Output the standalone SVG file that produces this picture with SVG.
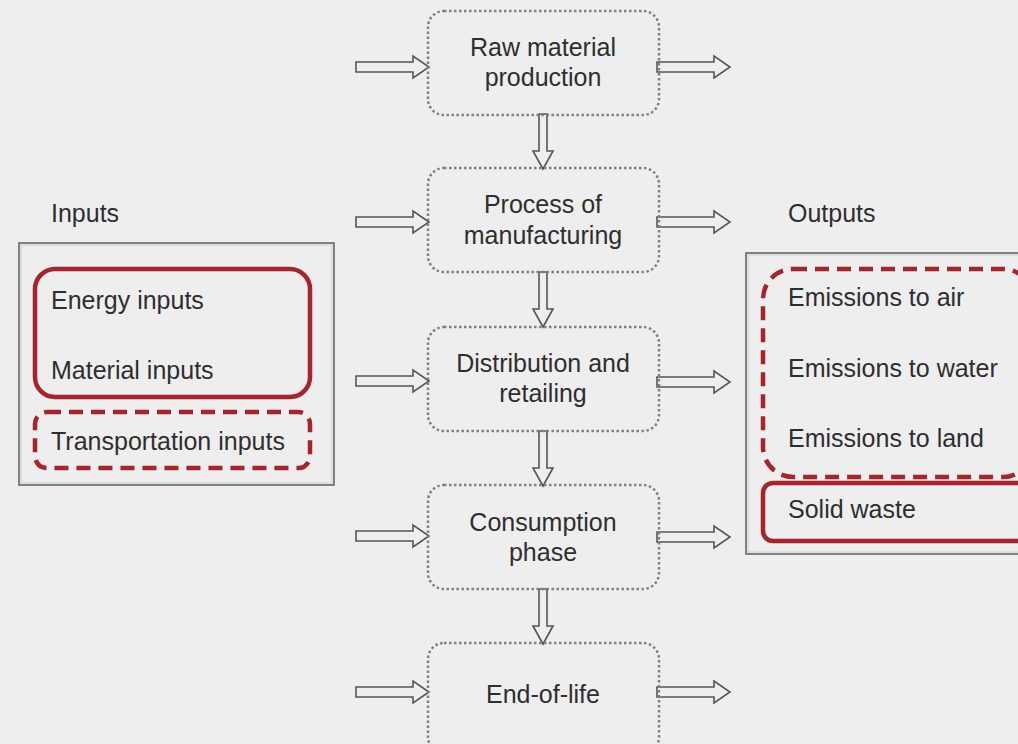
<svg xmlns="http://www.w3.org/2000/svg" width="1018" height="744" viewBox="0 0 1018 744">
<defs>
<style>
.bg{fill:#eeeeee}
.stage{fill:none;stroke:#808080;stroke-width:2.5;stroke-dasharray:2.5 2.5}
.t{font-family:"Liberation Sans",Arial,sans-serif;font-size:25px;fill:#2e2e2e}
.c{text-anchor:middle}
.arr{fill:#eeeeee;stroke:#555555;stroke-width:1.6;stroke-linejoin:miter}
.frame{fill:none;stroke:#666666;stroke-width:1.6}
.frame2{fill:none;stroke:#cccccc;stroke-width:1}
.rs{fill:none;stroke:#a8232b;stroke-width:4.5}
.rd{fill:none;stroke:#a8232b;stroke-width:4.5;stroke-dasharray:14 8}
</style>
<path id="ra" d="M0,-5 H57 V-11 L73,0 L57,11 V5 H0 Z"/>
<path id="da" d="M-4,0 V37 H-10 L0,55 L10,37 H4 V0 Z"/>
</defs>
<rect class="bg" x="0" y="0" width="1018" height="744"/>

<g id="connectors">
<use href="#ra" class="arr" x="356" y="67"/>
<use href="#ra" class="arr" x="356" y="222"/>
<use href="#ra" class="arr" x="356" y="381"/>
<use href="#ra" class="arr" x="356" y="536"/>
<use href="#ra" class="arr" x="356" y="692"/>
<use href="#ra" class="arr" x="657" y="67"/>
<use href="#ra" class="arr" x="657" y="222"/>
<use href="#ra" class="arr" x="657" y="382"/>
<use href="#ra" class="arr" x="657" y="537"/>
<use href="#ra" class="arr" x="657" y="692"/>
<use href="#da" class="arr" x="543" y="114"/>
<use href="#da" class="arr" x="543" y="272"/>
<use href="#da" class="arr" x="543" y="431"/>
<use href="#da" class="arr" x="543" y="589"/>
</g>

<g id="stage1">
<rect class="stage" x="428" y="11" width="231" height="104" rx="16"/>
<text class="t c" x="543" y="56">Raw material</text>
<text class="t c" x="543" y="86">production</text>
</g>
<g id="stage2">
<rect class="stage" x="428" y="168" width="231" height="104" rx="16"/>
<text class="t c" x="543" y="213">Process of</text>
<text class="t c" x="543" y="244">manufacturing</text>
</g>
<g id="stage3">
<rect class="stage" x="428" y="327" width="231" height="104" rx="16"/>
<text class="t c" x="543" y="372">Distribution and</text>
<text class="t c" x="543" y="402">retailing</text>
</g>
<g id="stage4">
<rect class="stage" x="428" y="485" width="231" height="104" rx="16"/>
<text class="t c" x="543" y="531">Consumption</text>
<text class="t c" x="543" y="561">phase</text>
</g>
<g id="stage5">
<rect class="stage" x="428" y="643" width="231" height="110" rx="16"/>
<text class="t c" x="543" y="703">End-of-life</text>
</g>

<g id="inputs">
<text class="t" x="51" y="222">Inputs</text>
<rect class="frame" x="19" y="243" width="315" height="242"/>
<rect class="frame2" x="21" y="245" width="311" height="238"/>
<rect class="rs" x="35" y="269" width="275" height="128" rx="20"/>
<text class="t" x="51" y="309">Energy inputs</text>
<text class="t" x="51" y="379">Material inputs</text>
<rect class="rd" x="35" y="412" width="275" height="56" rx="12"/>
<text class="t" x="51" y="450">Transportation inputs</text>
</g>

<g id="outputs">
<text class="t" x="788" y="222">Outputs</text>
<rect class="frame" x="746" y="253" width="290" height="301"/>
<rect class="frame2" x="748" y="255" width="286" height="297"/>
<rect class="rd" x="763" y="269" width="270" height="208" rx="30"/>
<text class="t" x="788" y="306">Emissions to air</text>
<text class="t" x="788" y="377">Emissions to water</text>
<text class="t" x="788" y="447">Emissions to land</text>
<rect class="rs" x="763" y="483" width="270" height="58" rx="10"/>
<text class="t" x="788" y="518">Solid waste</text>
</g>
</svg>
